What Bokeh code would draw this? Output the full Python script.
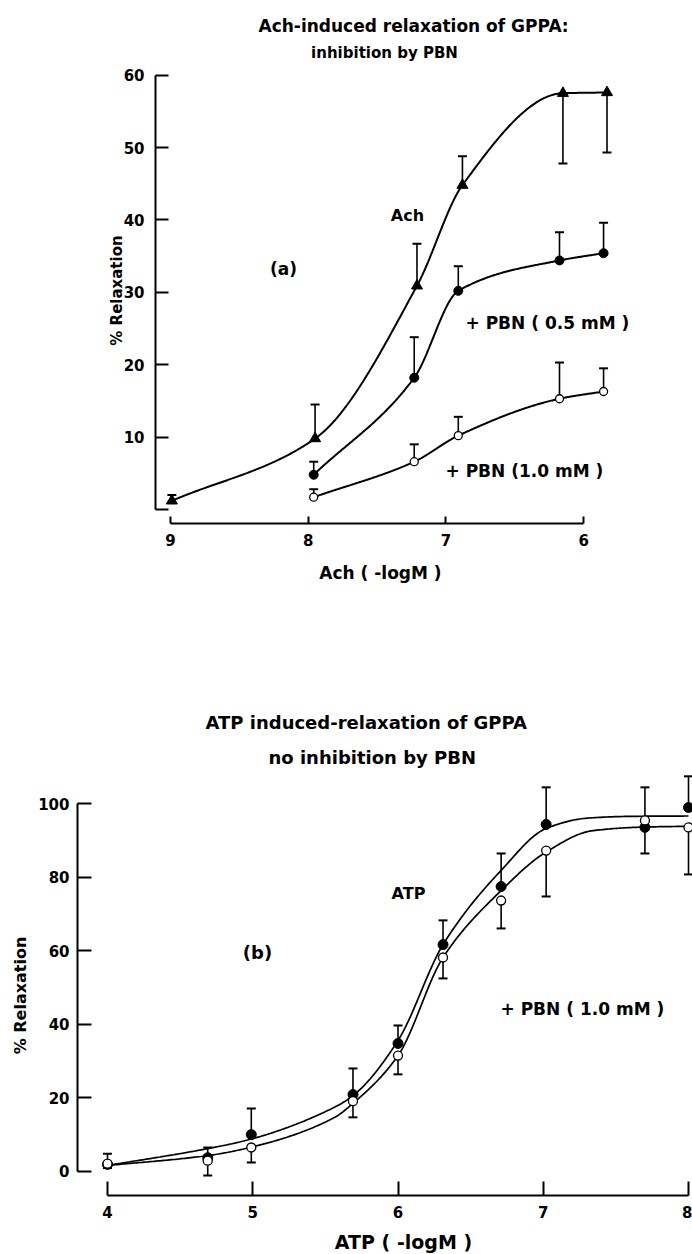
import numpy as np
from bokeh.plotting import figure
from bokeh.models import Range1d, FixedTicker, Label, LinearAxis, Grid
from bokeh.layouts import column
from bokeh.embed import file_html
from bokeh.resources import INLINE

# ---------------- data: (a) Ach ----------------
ach_x = [8.99, 7.95, 7.21, 6.88, 6.15, 5.83]
ach_y = [1.2, 9.8, 30.9, 44.8, 57.5, 57.6]
ach_err = [2.0, 14.5, 36.7, 48.8, 47.8, 49.3]

pbn_x = [7.96, 7.23, 6.91, 6.175, 5.855]
pbn05_y = [4.8, 18.2, 30.2, 34.4, 35.4]
pbn05_err = [6.6, 23.8, 33.6, 38.3, 39.6]
pbn10_y = [1.7, 6.6, 10.2, 15.3, 16.3]
pbn10_err = [2.8, 9.0, 12.8, 20.3, 19.5]

top_yticks = [0, 10, 20, 30, 40, 50, 60]
top_xticks = [9, 8, 7, 6]

# ---------------- data: (b) ATP ----------------
atp_x = [4.0, 4.69, 4.99, 5.69, 6.0, 6.31, 6.71, 7.02, 7.70, 8.0]
atp_y = [1.8, 3.6, 9.9, 20.8, 34.7, 61.6, 77.4, 94.3, 93.5, 98.9]
atp_err = [4.7, 6.4, 17.0, 27.9, 39.6, 68.2, 86.4, 104.4, 104.4, 107.4]
atpp_y = [2.0, 2.8, 6.4, 19.0, 31.4, 58.1, 73.6, 87.2, 95.4, 93.5]
atpp_err = [0.8, -1.2, 2.3, 14.6, 26.3, 52.4, 66.0, 74.7, 86.4, 80.7]

# fitted curves as drawn in the figure
atp_curve_x = [4.0, 4.69, 4.98, 5.56, 5.69, 6.0, 6.31, 6.71, 7.02, 7.3, 7.6, 8.0]
atp_curve_y = [1.5, 6.1, 8.6, 17.3, 20.5, 35.5, 61.6, 81.8, 93.2, 96.0, 96.5, 96.6]
atpp_curve_x = [4.0, 4.69, 4.98, 5.56, 5.69, 6.0, 6.31, 6.71, 7.02, 7.34, 7.7, 8.0]
atpp_curve_y = [1.5, 4.2, 6.4, 14.5, 18.4, 31.4, 58.1, 76.3, 86.8, 92.6, 93.6, 93.8]

bot_yticks = [0, 20, 40, 60, 80, 100]
bot_xticks = [4, 5, 6, 7, 8]

FONT = "DejaVu Sans"
W = 692


def smooth(xs, ys, n=300):
    """monotone cubic (PCHIP) through the given points, for drawing only"""
    x = np.asarray(xs, float)
    y = np.asarray(ys, float)
    o = np.argsort(x)
    x, y = x[o], y[o]
    h = np.diff(x)
    d = np.diff(y) / h
    m = np.zeros_like(x)
    for k in range(1, len(x) - 1):
        if d[k - 1] * d[k] <= 0:
            m[k] = 0.0
        else:
            w1 = 2 * h[k] + h[k - 1]
            w2 = h[k] + 2 * h[k - 1]
            m[k] = (w1 + w2) / (w1 / d[k - 1] + w2 / d[k])
    m[0] = d[0]
    m[-1] = d[-1]
    xx = np.linspace(x[0], x[-1], n)
    i = np.clip(np.searchsorted(x, xx) - 1, 0, len(h) - 1)
    t = (xx - x[i]) / h[i]
    h00 = 2 * t**3 - 3 * t**2 + 1
    h10 = t**3 - 2 * t**2 + t
    h01 = -2 * t**3 + 3 * t**2
    h11 = t**3 - t**2
    yy = h00 * y[i] + h10 * h[i] * m[i] + h01 * y[i + 1] + h11 * h[i] * m[i + 1]
    return xx, yy


def make_axes(p, xloc, yloc, xb, yb, xt, yt, xin, yin, xstand, ystand, overrides=None):
    xa = LinearAxis(fixed_location=xloc, bounds=xb, ticker=FixedTicker(ticks=xt),
                    major_tick_in=xin, major_label_standoff=xstand)
    ya = LinearAxis(fixed_location=yloc, bounds=yb, ticker=FixedTicker(ticks=yt),
                    major_tick_in=yin, major_label_standoff=ystand)
    if overrides:
        ya.major_label_overrides = overrides
    for ax in (xa, ya):
        ax.axis_line_width = 2
        ax.axis_line_color = "black"
        ax.major_tick_line_width = 2
        ax.major_tick_line_color = "black"
        ax.major_tick_out = 0
        ax.minor_tick_line_color = None
        ax.major_label_text_font = FONT
        ax.major_label_text_font_size = "15px"
        ax.major_label_text_font_style = "bold"
        ax.major_label_text_color = "black"
    p.add_layout(xa, "below")
    p.add_layout(ya, "left")
    p.outline_line_color = None
    for g in p.select(type=Grid):
        g.visible = False


def add_text(p, x, y, text, align="left", size="17px", angle=0.0):
    p.add_layout(Label(x=x, y=y, text=text, text_font=FONT, text_font_size=size,
                       text_font_style="bold", text_align=align,
                       text_baseline="middle", text_color="black", angle=angle))


def errbars(p, xs, ys, es):
    p.segment(x0=xs, y0=ys, x1=xs, y1=es, line_color="black", line_width=1.6)
    p.scatter(x=xs, y=es, marker="dash", size=9, line_color="black", line_width=2)


def new_fig(h, xr, yr):
    return figure(width=W, height=h, output_backend="svg", toolbar_location=None,
                  x_range=xr, y_range=yr, x_axis_location=None, y_axis_location=None,
                  min_border_left=0, min_border_right=0, min_border_top=0,
                  min_border_bottom=0, min_border=0)


# ---------------- top figure (page rows 0..640) ----------------
H1 = 640
tx = lambda px: 9 - (px - 170) / 137.7
ty = lambda py: (509 - py) / 7.24

p1 = new_fig(H1, Range1d(tx(0), tx(W)), Range1d(ty(H1), ty(0)))
make_axes(p1, ty(523), tx(155), (6, 9), (0, 60), top_xticks, top_yticks,
          7, 13, 10, 11, {0: ""})

for xs, ys in ((ach_x, ach_y), (pbn_x, pbn05_y), (pbn_x, pbn10_y)):
    cx, cy = smooth(xs, ys)
    p1.line(cx, cy, line_color="black", line_width=2)

errbars(p1, ach_x, ach_y, ach_err)
errbars(p1, pbn_x, pbn05_y, pbn05_err)
errbars(p1, pbn_x, pbn10_y, pbn10_err)
p1.scatter(ach_x, ach_y, marker="triangle", size=11, color="black")
p1.scatter(pbn_x, pbn05_y, marker="circle", size=9, color="black")
p1.scatter(pbn_x, pbn10_y, marker="circle", size=8, fill_color="white",
           line_color="black", line_width=1.3)

add_text(p1, tx(258), ty(25), "Ach-induced relaxation of GPPA:")
add_text(p1, tx(384), ty(52), "inhibition by PBN", align="center", size="15px")
add_text(p1, tx(407), ty(215), "Ach", align="center", size="16px")
add_text(p1, tx(283), ty(268), "(a)", align="center")
add_text(p1, tx(465), ty(322), "+ PBN ( 0.5 mM )")
add_text(p1, tx(445), ty(470), "+ PBN  (1.0 mM )")
add_text(p1, tx(380), ty(572), "Ach ( -logM )", align="center")
add_text(p1, tx(116), ty(290), "% Relaxation", align="center", size="15px", angle=np.pi / 2)

# ---------------- bottom figure (page rows 640..1254) ----------------
OFF = H1
H2 = 1254 - OFF
bx = lambda px: 4 + (px - 107) / 145.25
by = lambda py: (1170.5 - py) / 3.675

p2 = new_fig(H2, Range1d(bx(0), bx(W)), Range1d(by(OFF + H2), by(OFF)))
make_axes(p2, by(1195), bx(77), (4, 8), (0, 100), bot_xticks, bot_yticks,
          14, 14, 10, 8)

for xs, ys in ((atp_curve_x, atp_curve_y), (atpp_curve_x, atpp_curve_y)):
    cx, cy = smooth(xs, ys)
    p2.line(cx, cy, line_color="black", line_width=1.7)

errbars(p2, atp_x, atp_y, atp_err)
errbars(p2, atp_x, atpp_y, atpp_err)
p2.scatter(atp_x, atp_y, marker="circle", size=10, color="black")
p2.scatter(atp_x, atpp_y, marker="circle", size=9, fill_color="white",
           line_color="black", line_width=1.3)

add_text(p2, bx(205), by(722), "ATP induced-relaxation of GPPA", size="18px")
add_text(p2, bx(268), by(757), "no inhibition by PBN", size="18px")
add_text(p2, bx(408), by(893), "ATP", align="center", size="16px")
add_text(p2, bx(257), by(952), "(b)", align="center", size="18px")
add_text(p2, bx(500), by(1008), "+ PBN ( 1.0 mM )")
add_text(p2, bx(403), by(1241), "ATP ( -logM )", align="center", size="19px")
add_text(p2, bx(20), by(995), "% Relaxation", align="center", size="16px", angle=np.pi / 2)

layout = column(p1, p2, spacing=0)
open("out.html", "w").write(file_html(layout, INLINE))
